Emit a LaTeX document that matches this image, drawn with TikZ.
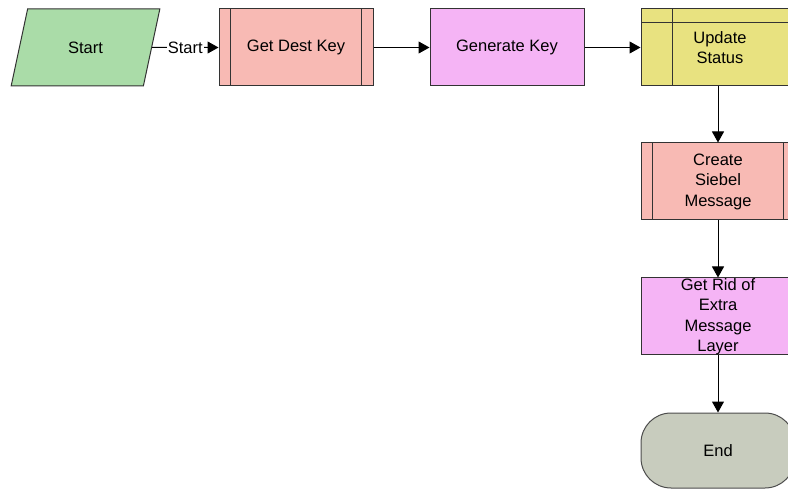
\documentclass[tikz,border=0pt]{standalone}
\usepackage{fontspec}
\setmainfont{Liberation Sans}
\usetikzlibrary{shapes.geometric,arrows.meta}

\definecolor{startgreen}{RGB}{170,220,168}
\definecolor{subsalmon}{RGB}{248,186,180}
\definecolor{stepviolet}{RGB}{245,180,245}
\definecolor{bizyellow}{RGB}{232,226,128}
\definecolor{endgrey}{RGB}{200,204,190}

\tikzset{
  box/.style={rectangle, draw=black!80, line width=1pt, minimum width=154pt, minimum height=77pt,
    align=center, inner sep=0pt, font=\fontsize{16.5}{20.5}\selectfont},
  subproc/.style={box, fill=subsalmon,
    path picture={\draw[black!80, line width=1pt]
      ([xshift=11pt]path picture bounding box.north west) -- ([xshift=11pt]path picture bounding box.south west)
      ([xshift=-12pt]path picture bounding box.north east) -- ([xshift=-12pt]path picture bounding box.south east);}},
  task/.style={box, fill=stepviolet},
  bizsvc/.style={box, fill=bizyellow,
    path picture={\draw[black!80, line width=1pt]
      ([yshift=-14pt]path picture bounding box.north west) -- ([yshift=-14pt]path picture bounding box.north east)
      ([xshift=31pt]path picture bounding box.north west) -- ([xshift=31pt]path picture bounding box.south west);}},
  flow/.style={line width=1pt, -{Triangle[length=11pt,width=12pt]}}
}

\begin{document}
\begin{tikzpicture}[x=1pt,y=-1pt]
\useasboundingbox (0,0) rectangle (788,489);

% top row
\node[trapezium, trapezium left angle=67, trapezium right angle=113, trapezium stretches,
  minimum width=149pt, minimum height=77pt, inner sep=0pt, draw=black!80, line width=1pt,
  fill=startgreen, font=\fontsize{16.5}{20.5}\selectfont] (start) at (85.5,47.5) {Start};
\node[subproc] (getkey) at (296,47.5) {Get Dest Key};
\node[task] (genkey) at (507,47.5) {Generate Key};
\node[bizsvc] (update) at (718,47.5) {\hspace*{4pt}Update\\\hspace*{4pt}Status};

% right column
\node[subproc] (siebelmsg) at (718,181.5) {Create\\Siebel\\Message};
\node[task] (ridlayer) at (718,316.5) {Get Rid of\\Extra\\Message\\Layer};
\node[box, fill=endgrey, rounded corners=30pt, minimum height=75pt, draw=black!70] (finish) at (718,450.5) {End};

\draw[flow] (start.east) -- node[fill=white, inner sep=1pt, font=\fontsize{16.5}{20.5}\selectfont] {Start} (getkey);
\draw[flow] (getkey) -- (genkey);
\draw[flow] (genkey) -- (update);
\draw[flow] (update) -- (siebelmsg);
\draw[flow] (siebelmsg) -- (ridlayer);
\draw[flow] (ridlayer) -- (finish);
\end{tikzpicture}
\end{document}
